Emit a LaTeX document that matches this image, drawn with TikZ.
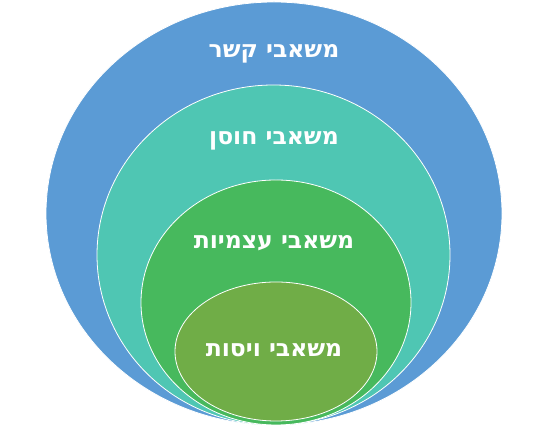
\documentclass[tikz,border=0pt]{standalone}
\usepackage{fontspec}
\usepackage{xcolor}
\usepackage{tikz}
\usetikzlibrary{shapes.geometric, positioning}
\TeXXeTstate=1
\newfontfamily\hebfont[Script=Hebrew]{DejaVu Sans}

\definecolor{ringblue}{HTML}{5B9BD5}
\definecolor{ringteal}{HTML}{4FC6B3}
\definecolor{ringgreen}{HTML}{47B95D}
\definecolor{ringolive}{HTML}{70AD47}

\tikzset{
  ring/.style={ellipse, draw=white, line width=0.8pt, inner sep=0pt},
  ringtext/.style={anchor=base, text=white, font=\hebfont\bfseries\fontsize{23.5}{26}\selectfont}
}

\begin{document}
\begin{tikzpicture}[x=1pt, y=1pt]
    \useasboundingbox (0,0) rectangle (550,427);

    \node[ring, fill=ringblue, minimum width=456pt, minimum height=423pt] (kesher) at (274,213.5) {};
    \node[ring, fill=ringteal, minimum width=353pt, minimum height=340pt] (hosen) at (273.5,172) {};
    \node[ring, fill=ringgreen, minimum width=270pt, minimum height=245pt] (atsmiut) at (276,124.5) {};
    \node[ring, fill=ringolive, minimum width=202pt, minimum height=139pt] (visut) at (276,75.5) {};

    \node[ringtext] (t1) at (274,369) {\beginR משאבי קשר\endR};
    \node[ringtext] (t2) at (274,282) {\beginR משאבי חוסן\endR};
    \node[ringtext] (t3) at (274,178) {\beginR משאבי עצמיות\endR};
    \node[ringtext] (t4) at (274,70) {\beginR משאבי ויסות\endR};
\end{tikzpicture}
\end{document}
